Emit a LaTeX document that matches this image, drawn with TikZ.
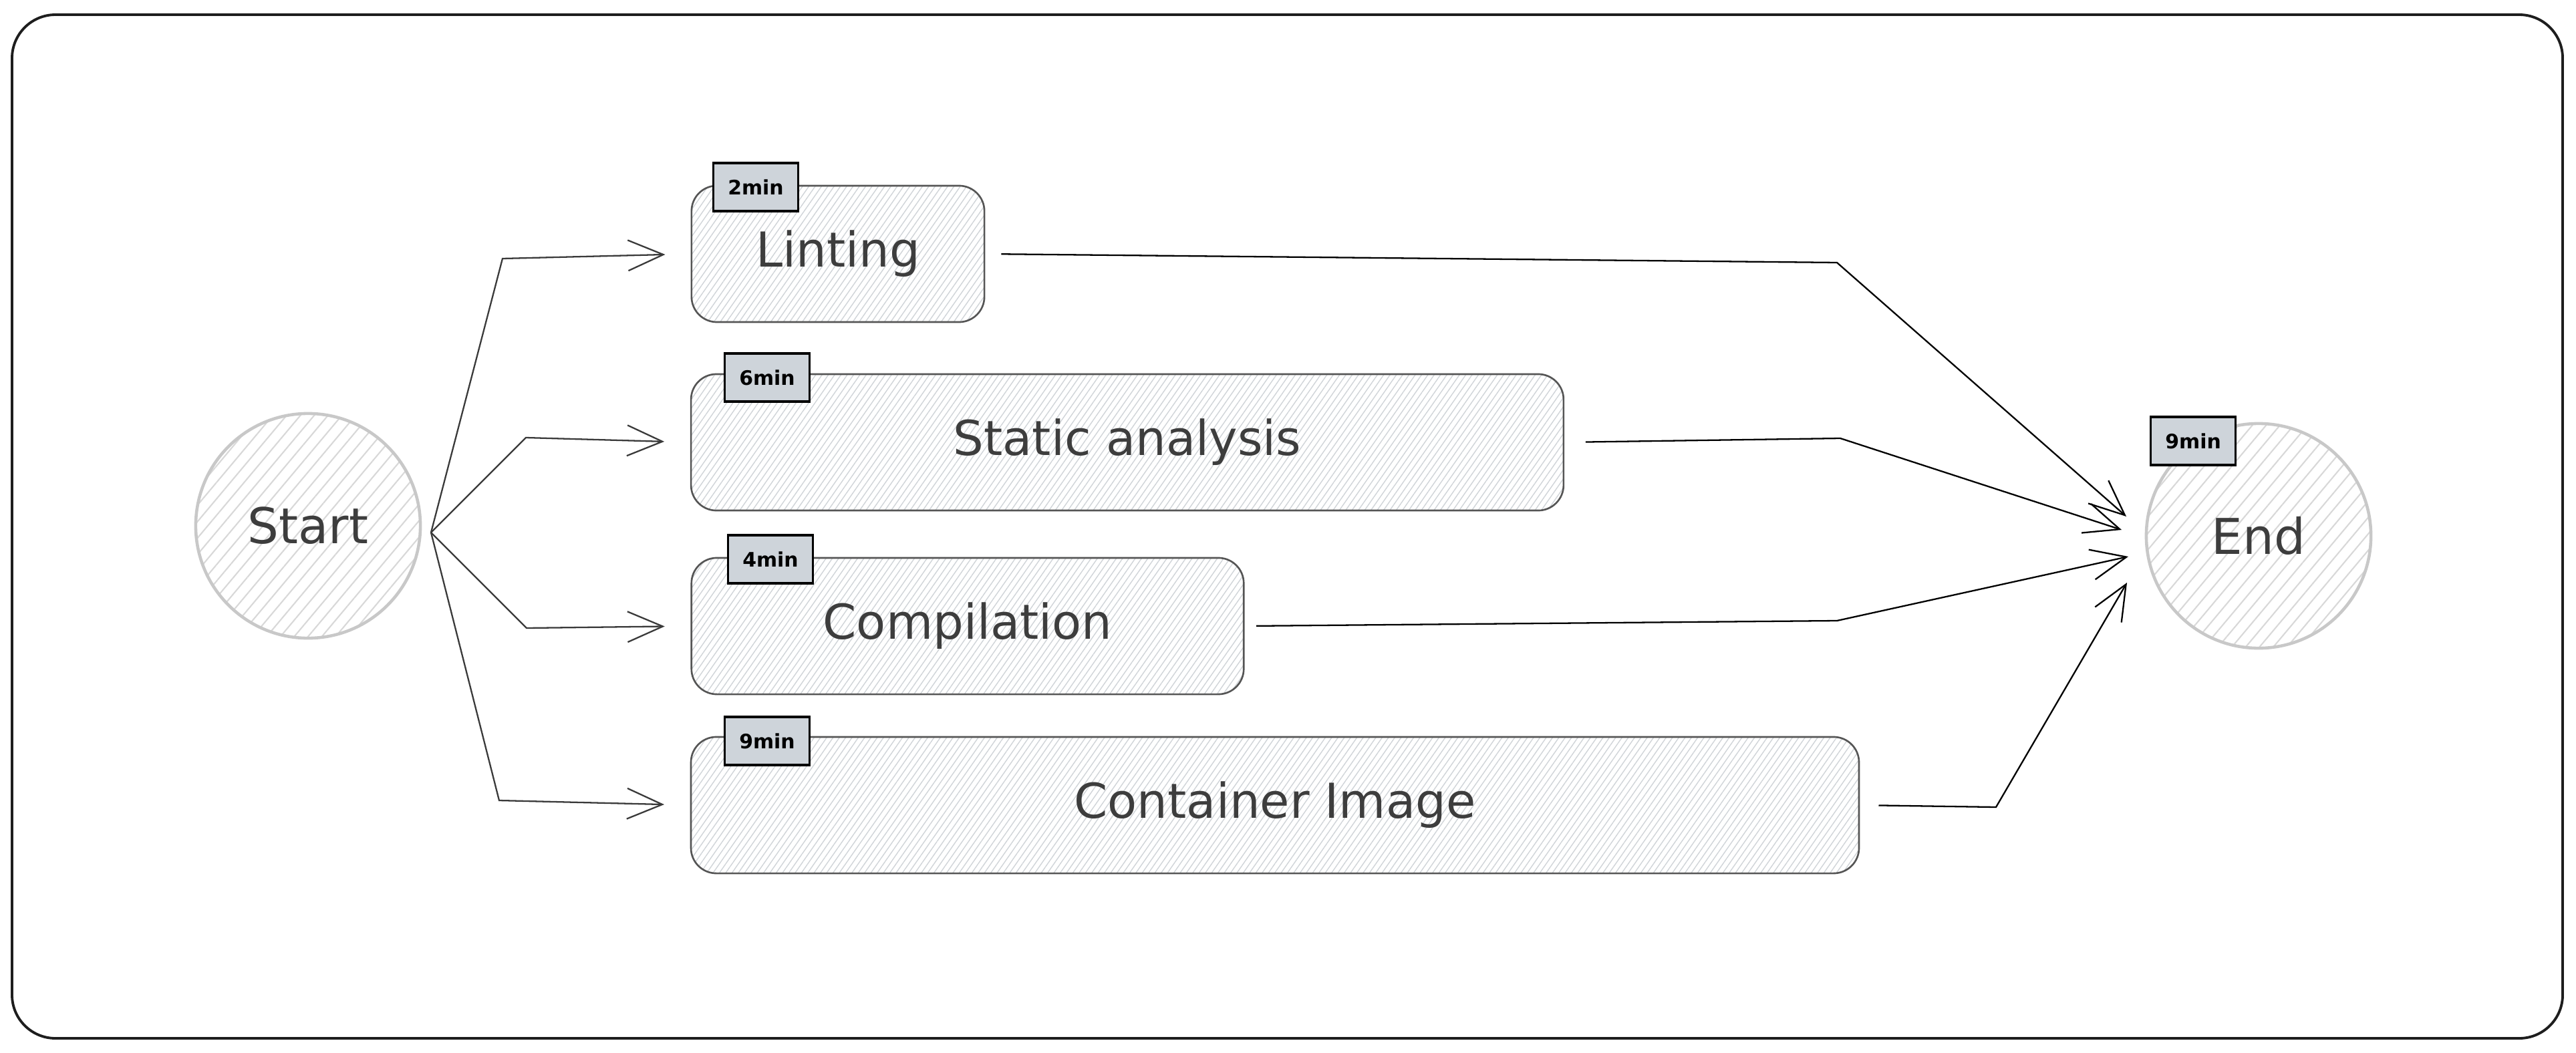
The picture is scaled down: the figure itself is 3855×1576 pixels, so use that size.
\documentclass[tikz,border=0pt]{standalone}
\usepackage{fontspec}
\setmainfont{DejaVu Sans}
\usetikzlibrary{arrows.meta,patterns.meta,positioning}

\definecolor{ink}{HTML}{3D3D3D}
\definecolor{boxline}{HTML}{555555}
\definecolor{ringline}{HTML}{C8C8C8}
\definecolor{hatch}{HTML}{D0D4D8}
\definecolor{ringhatch}{HTML}{D8D8D8}
\definecolor{badgefill}{HTML}{CED4DA}
\definecolor{wire}{HTML}{3A3A3A}
\definecolor{frameline}{HTML}{1E1E1E}

\begin{document}
\begin{tikzpicture}[x=0.01cm,y=-0.01cm,
	stage/.style={draw=boxline,line width=0.75pt,rounded corners=0.38cm,pattern={Lines[angle=55,distance=2.2pt,line width=0.4pt]},pattern color=hatch,minimum height=2.04cm,inner sep=0pt,text=ink,font=\fontsize{20.5}{24}\selectfont},
	terminal/.style={circle,draw=ringline,line width=1.3pt,minimum size=3.36cm,inner sep=0pt,pattern={Lines[angle=50,distance=4.5pt,line width=0.6pt]},pattern color=ringhatch,text=ink,font=\fontsize{21}{24}\selectfont},
	badge/.style={draw=black,fill=badgefill,line width=0.9pt,minimum width=1.27cm,minimum height=0.72cm,inner sep=0pt,font=\fontsize{8.5}{9}\selectfont\bfseries},
	flow/.style={draw=wire,line width=0.65pt,-{Straight Barb[length=15pt,width=13pt,line width=0.65pt]}}]
		\useasboundingbox (0,0) rectangle (3855,1576);
		\draw[frameline,line width=1.1pt,rounded corners=0.65cm] (18,22) rectangle (3835,1554);
		
		\node (start) [terminal] at (461,787) {Start};
		\node (end) [terminal] at (3380,802) {End};
		
		\node (lint) [stage,minimum width=4.38cm] at (1254,380) {Linting};
		\node (stat) [stage,minimum width=13.05cm] at (1687,662) {Static analysis};
		\node (comp) [stage,minimum width=8.26cm] at (1448,937) {Compilation};
		\node (cont) [stage,minimum width=17.47cm] at (1908,1205) {Container Image};
		
		\node (tlint) [badge] at (1131,280) {2min};
		\node (tstat) [badge] at (1148,565) {6min};
		\node (tcomp) [badge] at (1153,837) {4min};
		\node (tcont) [badge] at (1148,1109) {9min};
		\node (tend) [badge] at (3282,660) {9min};
		
		\coordinate (fork) at (645,797);
		\draw[flow,shorten >=11pt] (fork) -- (752,387) -- (lint.west);
		\draw[flow,shorten >=11pt] (fork) -- (787,655) -- (stat.west);
		\draw[flow,shorten >=11pt] (fork) -- (788,940) -- (comp.west);
		\draw[flow,shorten >=11pt] (fork) -- (747,1198) -- (cont.west);
		
		\coordinate (in1) at (3182,773); \coordinate (in2) at (3175,793); \coordinate (in3) at (3185,833); \coordinate (in4) at (3183,872);
		\draw[flow,draw=black,shorten <=7pt] (lint.east) -- (2749,393) -- (in1);
		\draw[flow,draw=black,shorten <=9pt] (stat.east) -- (2754,656) -- (in2);
		\draw[flow,draw=black,shorten <=5pt] (comp.east) -- (2749,929) -- (in3);
		\draw[flow,draw=black,shorten <=8pt] (cont.east) -- (2987,1208) -- (in4);
	\end{tikzpicture}
\end{document}
